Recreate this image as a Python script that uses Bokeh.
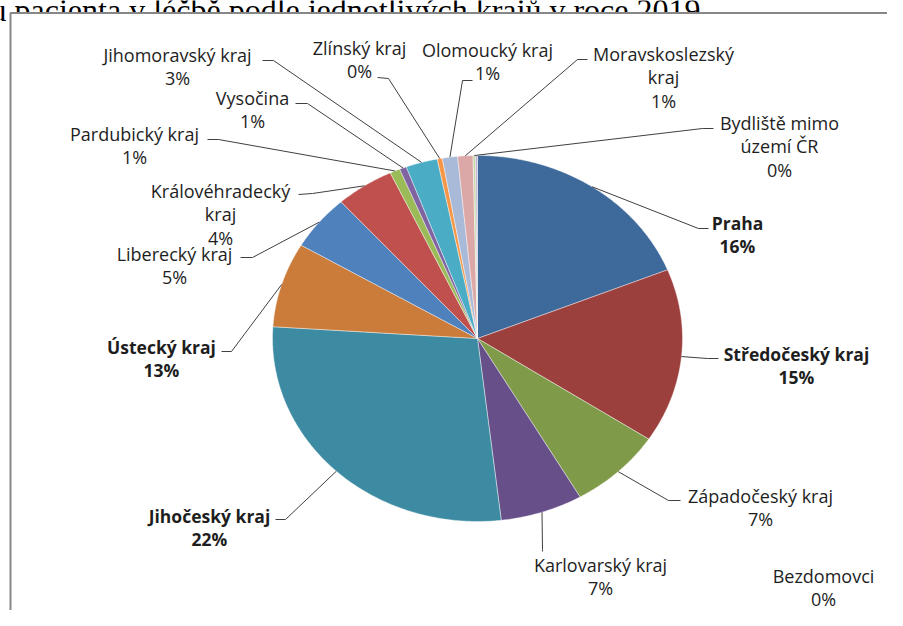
import numpy as np
from bokeh.plotting import figure
from bokeh.models import ColumnDataSource
from bokeh.core.properties import value
from bokeh.embed import file_html
from bokeh.resources import INLINE

# ---------------- data ----------------
regions = ["Praha", "Středočeský kraj", "Západočeský kraj", "Karlovarský kraj",
           "Jihočeský kraj", "Ústecký kraj", "Liberecký kraj", "Královéhradecký kraj",
           "Pardubický kraj", "Vysočina", "Jihomoravský kraj", "Zlínský kraj",
           "Olomoucký kraj", "Moravskoslezský kraj", "Bydliště mimo území ČR", "Bezdomovci"]
# slice sizes as drawn (share of the full circle, %)
shares = [18.9, 15.4, 7.4, 6.5, 27.9, 7.5, 4.9, 4.6, 0.8, 0.55, 2.5, 0.4, 1.2, 1.2, 0.2, 0.15]
# percentages printed in the data labels
pct_labels = ["16%", "15%", "7%", "7%", "22%", "13%", "5%", "4%",
              "1%", "1%", "3%", "0%", "1%", "1%", "0%", "0%"]
title_text = "Místo trvalého pobytu pacienta v léčbě podle jednotlivých krajů v roce 2019"

# ---------------- styles / layout ----------------
colors = ["#3E6A9B", "#9C403E", "#7F9B49", "#67508A", "#3D8BA2", "#CB7B3A",
          "#4F81BD", "#C0504D", "#9BBB59", "#8064A2", "#4BACC6", "#F79646",
          "#A9BAD8", "#DBA8A7", "#C9D8A9", "#BBB0CF"]
bold = [True, True, False, False, True, True] + [False] * 10
wrap = {"Královéhradecký kraj": ["Královéhradecký", "kraj"],
        "Moravskoslezský kraj": ["Moravskoslezský", "kraj"],
        "Bydliště mimo území ČR": ["Bydliště mimo", "území ČR"]}
# label centre x and first-line y (picture pixels)
label_pos = [(737, 222), (796, 353), (760, 495), (600, 564), (209, 515), (161, 346),
             (174, 253), (220, 190), (134, 133), (252, 97), (177, 54), (359, 47),
             (487, 49), (663, 53), (779, 122), (823, 575)]
# leader: label end point and elbow (picture pixels); the slice end is computed
leaders = [((708, 228), (698, 228)), ((718, 358), (707, 358)), ((680, 500), (668, 500)),
           ((542, 551), (542, 549)), ((275, 519), (285, 519)), ((221, 351), (231, 351)),
           ((240, 257), (252, 257)), ((298, 194), (312, 193)), ((207, 139), (218, 139)),
           ((295, 103), (307, 103)), ((262, 60), (273, 60)), ((377, 77), (388, 78)),
           ((472, 80), (462, 80)), ((587, 59), (577, 59)), ((713, 128), (702, 128)), None]
LINE_H = 23.5
FONT = "Open Sans"
FONT_SIZE = "18px"
BOLD_SIZE = "17.5px"

W, H = 887, 610
CX, CY, RX, RY = 477, 338, 205, 183   # pie centre / radii on the picture


def px(x):
    return (x - CX) / RX


def py(y):
    return (CY - y) / RY


p = figure(width=W, height=H,
           x_range=(px(0), px(W)), y_range=(py(H), py(0)),
           output_backend="svg", toolbar_location=None, min_border=0)
p.axis.visible = False
p.grid.visible = False
p.outline_line_color = None
p.background_fill_color = "white"
p.border_fill_color = "white"

# title (mostly above the top edge; the chart area overlaps its descenders)
p.text(x=[px(700)], y=[py(9)], text=[title_text], text_align="right",
       text_baseline="alphabetic", text_font=value("Liberation Serif"),
       text_font_size="32px", text_color="black")
# chart area frame
p.quad(left=[px(10)], right=[px(930)], top=[py(12.5)], bottom=[py(700)],
       fill_color="white", line_color="#878787", line_width=2)

# ---------------- pie ----------------
vals = np.array(shares, dtype=float)
frac = vals / vals.sum()
ends = np.cumsum(frac) * 2 * np.pi
starts = ends - frac * 2 * np.pi
xs, ys = [], []
for a0, a1 in zip(starts, ends):
    n = max(3, int(np.degrees(a1 - a0) * 2) + 2)
    t = np.linspace(a0, a1, n)
    xs.append(np.concatenate([[0.0], np.sin(t), [0.0]]))
    ys.append(np.concatenate([[0.0], np.cos(t), [0.0]]))
p.patches(xs=xs, ys=ys, fill_color=colors, line_color="white", line_width=0.6, line_alpha=0.7)

# ---------------- leader lines ----------------
mids = (starts + ends) / 2
lx, ly = [], []
for i, ld in enumerate(leaders):
    if ld is None:
        continue
    (a, b), (c, d) = ld
    lx.append([px(a), px(c), np.sin(mids[i])])
    ly.append([py(b), py(d), np.cos(mids[i])])
p.multi_line(xs=lx, ys=ly, line_color="#404040", line_width=1)

# ---------------- labels ----------------
rows = {True: dict(x=[], y=[], t=[]), False: dict(x=[], y=[], t=[])}
for i, name in enumerate(regions):
    lines = wrap.get(name, [name]) + [pct_labels[i]]
    cx, y1 = label_pos[i]
    for k, s in enumerate(lines):
        rows[bold[i]]["x"].append(px(cx))
        rows[bold[i]]["y"].append(py(y1 + k * LINE_H))
        rows[bold[i]]["t"].append(s)
for b, d in rows.items():
    src = ColumnDataSource(d)
    p.text(x="x", y="y", text="t", source=src, text_align="center", text_baseline="middle",
           text_font=value(FONT), text_font_size=BOLD_SIZE if b else FONT_SIZE,
           text_font_style="bold" if b else "normal", text_color="#1E1E1E")

open("out.html", "w").write(file_html(p, INLINE))
